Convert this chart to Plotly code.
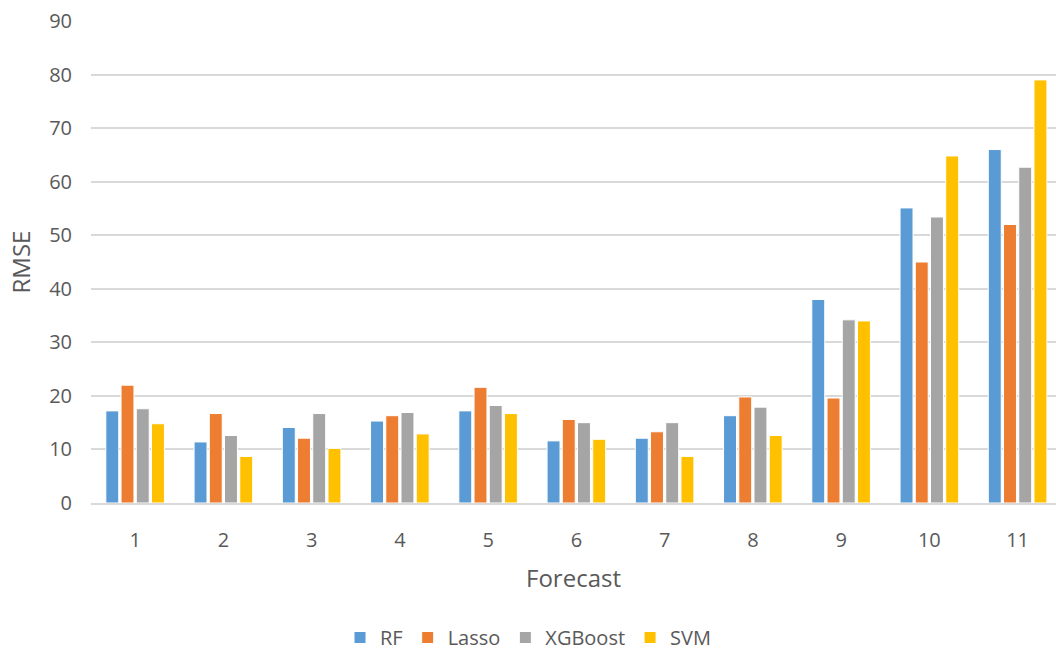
import plotly.graph_objects as go

forecast = [1, 2, 3, 4, 5, 6, 7, 8, 9, 10, 11]
rf = [17.2, 11.4, 14.1, 15.3, 17.2, 11.6, 12.1, 16.3, 38.0, 55.1, 66.0]
lasso = [22.0, 16.7, 12.1, 16.3, 21.6, 15.6, 13.3, 19.8, 19.6, 45.0, 52.0]
xgboost = [17.6, 12.6, 16.7, 16.9, 18.2, 15.0, 15.0, 17.9, 34.2, 53.4, 62.7]
svm = [14.8, 8.7, 10.2, 12.9, 16.7, 11.9, 8.7, 12.6, 34.0, 64.8, 79.0]

series = [("RF", rf, "#5B9BD5"), ("Lasso", lasso, "#ED7D31"),
          ("XGBoost", xgboost, "#A5A5A5"), ("SVM", svm, "#FFC000")]

fig = go.Figure()
for name, vals, col in series:
    fig.add_trace(go.Bar(x=forecast, y=vals, name=name, marker_color=col,
                         marker_line=dict(color="white", width=1)))

font = dict(family="Open Sans, sans-serif", color="#595959", size=20)
fig.update_layout(
    width=1056, height=657,
    margin=dict(l=91, r=0, t=21, b=154),
    plot_bgcolor="white", paper_bgcolor="white",
    barmode="group", bargap=0.31, bargroupgap=0.15,
    font=font,
    xaxis=dict(range=[0.5, 11.435], tickmode="array", tickvals=forecast,
               ticktext=[str(f) for f in forecast], showgrid=False,
               showline=True, linecolor="#D9D9D9", linewidth=1.5,
               ticks="", ticklabelstandoff=18, automargin=False,
               title=dict(text="Forecast", standoff=18),
               tickfont=dict(size=20)),
    yaxis=dict(range=[0, 90], dtick=10, showgrid=True, gridcolor="#D9D9D9",
               gridwidth=1.5, zeroline=False, ticks="", ticklabelstandoff=18,
               automargin=False,
               title=dict(text="RMSE", standoff=11), tickfont=dict(size=20)),
    legend=dict(orientation="h", xref="container", x=0.5, xanchor="center",
                yref="container", y=0.0, yanchor="bottom",
                font=dict(size=20)),
)
fig.write_html("out.html", config={"displayModeBar": False},
               post_script="document.body.style.margin='0';document.body.style.overflow='hidden';")
